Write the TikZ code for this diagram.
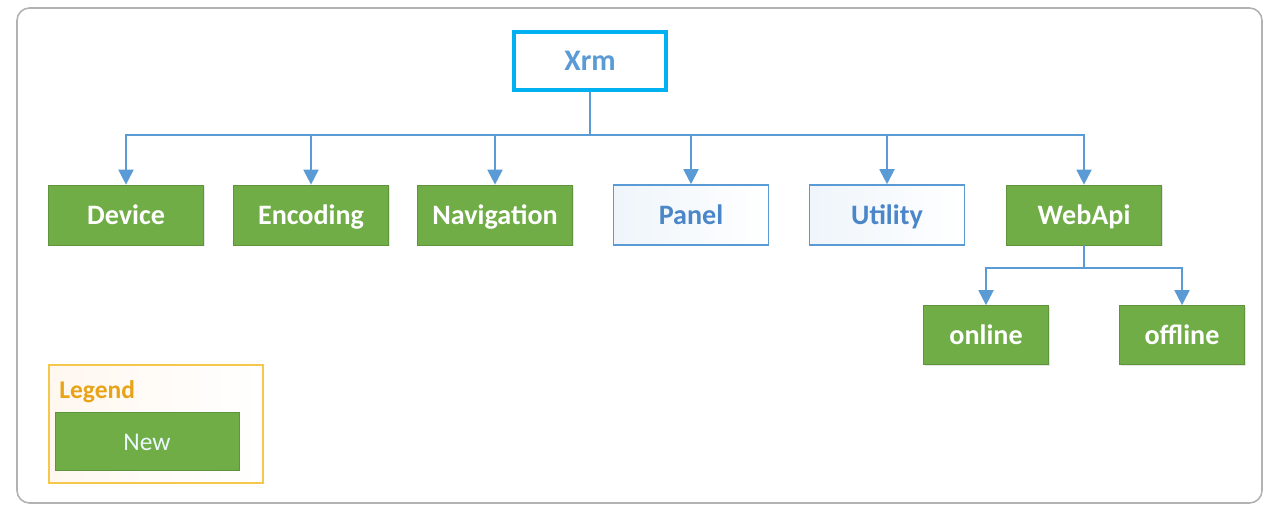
\documentclass[tikz,border=0pt]{standalone}
\usepackage{fontspec}
\setmainfont{Carlito}
\usetikzlibrary{positioning,fit,arrows.meta,shadows}
\definecolor{newgreen}{HTML}{70AD47}
\definecolor{linkblue}{HTML}{5B9BD5}
\definecolor{rootcyan}{HTML}{00B0F0}
\definecolor{textblue}{HTML}{4A86C8}
\definecolor{legendgold}{HTML}{F5C84C}
\definecolor{legendtext}{HTML}{E8A317}

\begin{document}
\begin{tikzpicture}[x=0.02cm, y=-0.02cm, font=\bfseries\fontsize{16}{18}\selectfont,
  box/.style={rectangle, inner sep=0pt, minimum width=3.1cm, minimum height=1.2cm, text height=2.3ex, text depth=0.1ex},
  newbox/.style={box, fill=newgreen, draw=newgreen!85!black, line width=0.4pt, text=white,
    drop shadow={opacity=0.2, shadow xshift=0.8pt, shadow yshift=-0.8pt}},
  oldbox/.style={box, draw=linkblue, line width=0.9pt, left color=linkblue!10, right color=white, text=textblue},
  rootbox/.style={box, draw=rootcyan, line width=2.3pt, fill=white, text=linkblue, minimum width=3.04cm, minimum height=1.16cm, font=\bfseries\fontsize{17}{19}\selectfont},
  link/.style={draw=linkblue, line width=1.1pt, -{Triangle[length=0.3cm, width=0.3cm]}}]
  \useasboundingbox (0,0) rectangle (1273,506);
  % frame
  \draw[draw=gray!60, line width=0.9pt, rounded corners=0.25cm] (17,8) rectangle (1262,503);
  % root and first level
  \node[rootbox] (xrm) at (590,61) {Xrm};
  \node[newbox] (dev) at (126,215) {Device};
  \node[newbox] (enc) at (311,215) {Encoding};
  \node[newbox] (nav) at (495,215) {Navigation};
  \node[oldbox] (pan) at (691,215) {Panel};
  \node[oldbox] (uti) at (887,215) {Utility};
  \node[newbox] (web) at (1084,215) {WebApi};
  \node[newbox, minimum width=2.5cm, minimum height=1.18cm] (onl) at (986,335) {online};
  \node[newbox, minimum width=2.5cm, minimum height=1.18cm] (off) at (1182,335) {offline};
  \coordinate (bus) at (590,135);
  \coordinate (webbus) at (1084,268);
  \foreach \n in {dev,enc,nav,pan,uti,web}
    \draw[link] (xrm.south) -- (bus) -| (\n.north);
  \foreach \n in {onl,off}
    \draw[link] (web.south) -- (webbus) -| (\n.north);
  % legend
  \node[box, draw=legendgold, line width=0.9pt, left color=orange!6, right color=white, minimum width=4.28cm, minimum height=2.36cm] (leg) at (156,424) {};
  \node[anchor=west, inner sep=0pt, text=legendtext, font=\bfseries\fontsize{14.5}{16}\selectfont] (legtitle) at (59,392) {Legend};
  \node[newbox, minimum width=3.68cm, minimum height=1.16cm, text=cyan!8, font=\fontsize{14.5}{16}\selectfont] (new) at (147,441) {New};
\end{tikzpicture}
\end{document}
